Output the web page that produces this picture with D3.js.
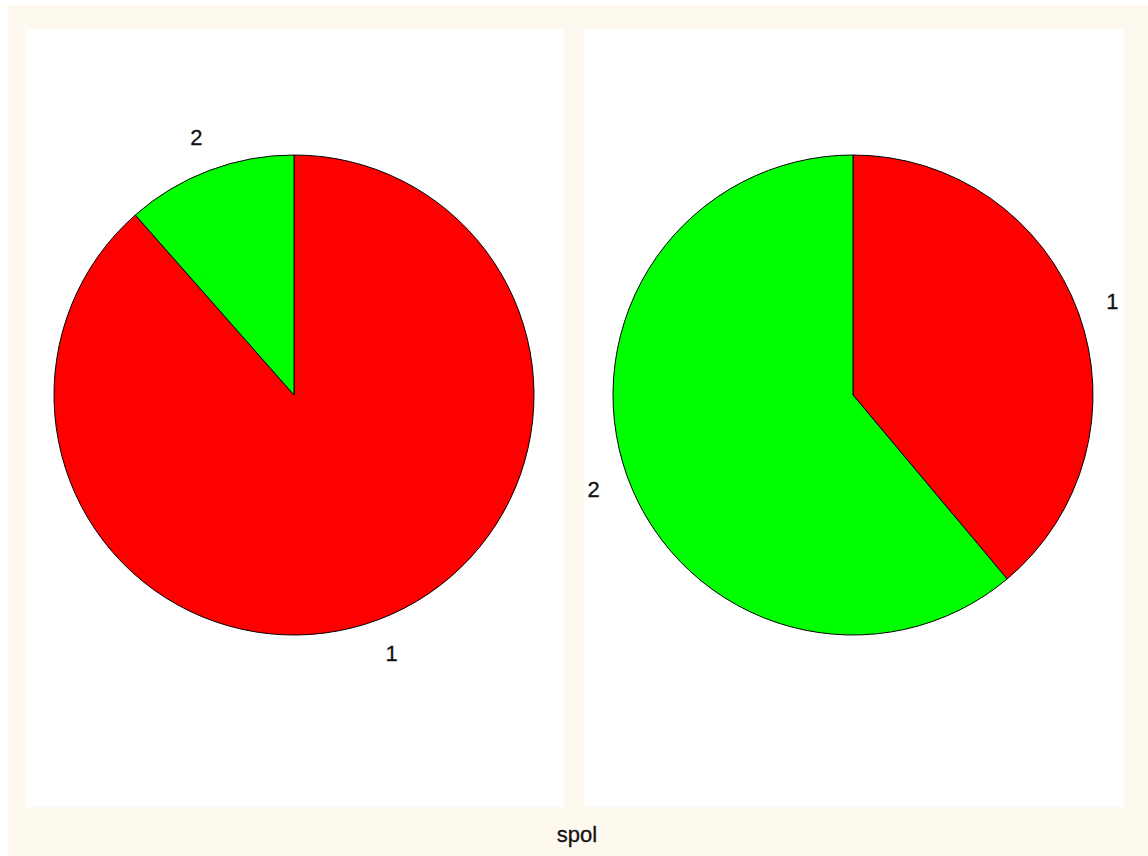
<!DOCTYPE html>
<html>
<head>
<meta charset="utf-8">
<script src="https://cdn.jsdelivr.net/npm/d3@7"></script>
<style>
  body { margin: 0; background: #ffffff; overflow: hidden; }
  svg { display: block; }
  text { font-family: "Liberation Sans", Arial, sans-serif; }
</style>
</head>
<body>
<div id="chart"></div>
<script>
// categories of spol, and the share in each of the two pies
var categories = ["1", "2"];
var leftValues = [88.5, 11.5];
var rightValues = [38.9, 61.1];
var colors = ["#ff0000", "#00ff00"];
var title = "spol";

var W = 1148, H = 856;
var svg = d3.select("#chart").append("svg").attr("width", W).attr("height", H);

// cream outer region
svg.append("rect").attr("x", 8).attr("y", 5).attr("width", W - 8).attr("height", H - 5)
   .attr("fill", "#fef9ef");

var panels = [
  { x0: 26, x1: 564, values: leftValues },
  { x0: 584, x1: 1124, values: rightValues }
];
var py0 = 29, py1 = 807;
var r = 240;

var pie = d3.pie().sort(null).value(function (d) { return d; });
var arc = d3.arc().innerRadius(0).outerRadius(r);
var labelArc = d3.arc().innerRadius(r * 1.15).outerRadius(r * 1.15);

panels.forEach(function (p) {
  svg.append("rect").attr("x", p.x0).attr("y", py0)
     .attr("width", p.x1 - p.x0).attr("height", py1 - py0).attr("fill", "#ffffff");

  var cx = (p.x0 + p.x1) / 2 - 1;
  var g = svg.append("g").attr("transform", "translate(" + cx + "," + 395 + ")");
  var arcs = pie(p.values);

  g.selectAll("path").data(arcs).enter().append("path")
   .attr("d", arc)
   .attr("fill", function (d, i) { return colors[i]; })
   .attr("stroke", "#000000")
   .attr("stroke-width", 1);

  g.selectAll("text").data(arcs).enter().append("text")
   .attr("transform", function (d) { return "translate(" + labelArc.centroid(d) + ")"; })
   .attr("text-anchor", "middle")
   .attr("dy", "0.36em")
   .attr("font-size", "22px")
   .attr("fill", "#111111")
   .attr("stroke", "#111111")
   .attr("stroke-width", 0.3)
   .text(function (d, i) { return categories[i]; });
});

svg.append("text").attr("x", 577).attr("y", 842)
   .attr("text-anchor", "middle").attr("font-size", "22px").attr("fill", "#111111")
   .attr("stroke", "#111111").attr("stroke-width", 0.3)
   .text(title);
</script>
</body>
</html>
